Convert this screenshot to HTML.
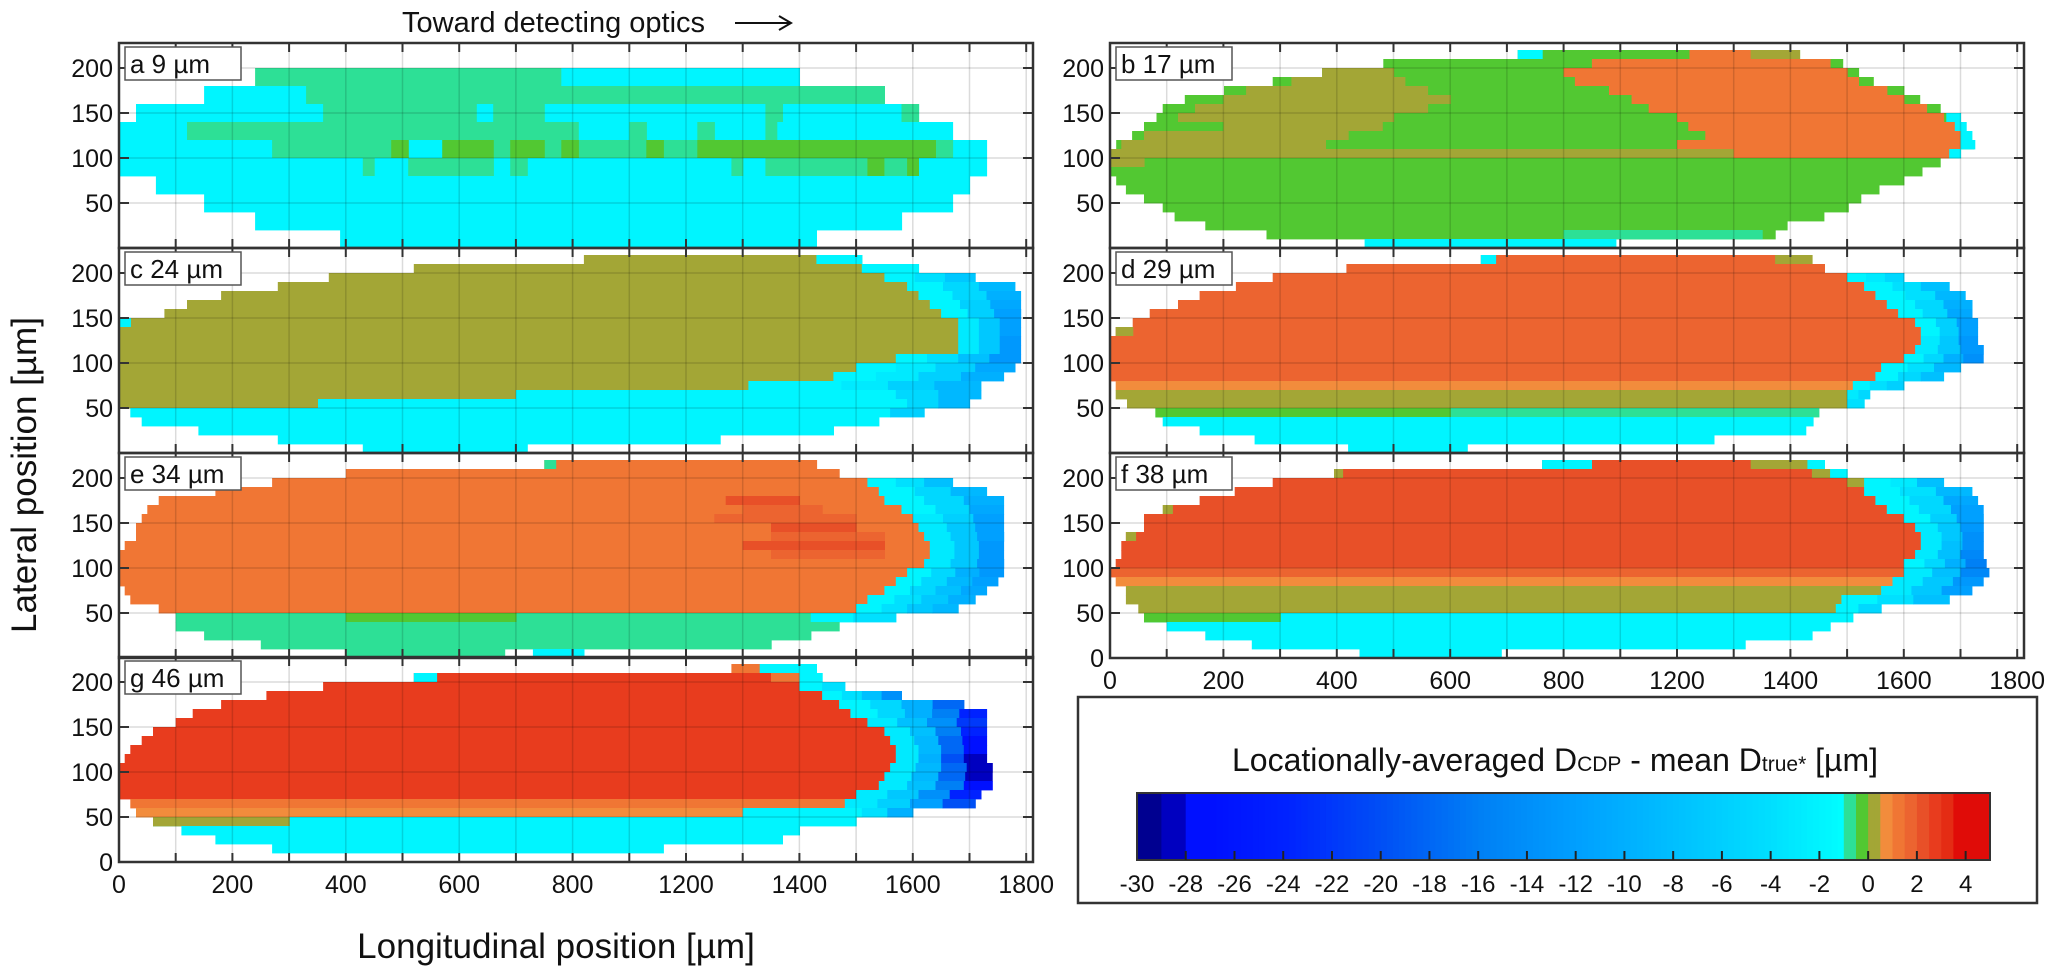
<!DOCTYPE html>
<html><head><meta charset="utf-8"><style>
html,body{margin:0;padding:0;background:#fff}
svg{display:block;font-family:"Liberation Sans",Arial,sans-serif}
</style></head><body>
<svg id="fig" width="2067" height="972" viewBox="0 0 2067 972" xmlns="http://www.w3.org/2000/svg">
<text x="402" y="32" font-size="29" fill="#111">Toward detecting optics</text>
<g><line x1="735" y1="23" x2="790" y2="23" stroke="#111" stroke-width="2"/><polyline points="779,16 791,23 779,30" fill="none" stroke="#111" stroke-width="2"/></g>
<text transform="translate(36,475) rotate(-90)" text-anchor="middle" font-size="35" fill="#111">Lateral position [µm]</text>
<text x="556" y="958" text-anchor="middle" font-size="35" fill="#111">Longitudinal position [µm]</text>
<g id="panels"></g>
<g id="cbar"></g>
</svg>
<script>
const xTickValues=[0,200,400,600,800,1000,1200,1400,1600];
const xTickLabels=['0','200','400','600','800','1200','1400','1600','1800'];
const yTickValues=[50,100,150,200];
const cbarTicks=[-30,-28,-26,-24,-22,-20,-18,-16,-14,-12,-10,-8,-6,-4,-2,0,2,4];
const panelNames=['a 9 µm','b 17 µm','c 24 µm','d 29 µm','e 34 µm','f 38 µm','g 46 µm'];

const panelA=[[180,200,240,780,-0.75],[180,200,780,1200,-2],
[160,180,150,330,-2],[160,180,330,1350,-0.75],
[140,160,30,1410,-2],[140,160,360,630,-0.75],[140,160,660,750,-0.75],[140,160,1140,1170,-0.75],[140,160,1380,1410,-0.75],
[120,140,0,1470,-2],[120,140,120,810,-0.75],[120,140,900,930,-0.75],[120,140,1020,1050,-0.75],[120,140,1140,1160,-0.75],
[100,120,0,1530,-2],[100,120,270,1470,-0.75],[100,120,510,570,-2],[100,120,480,510,-0.25],[100,120,570,660,-0.25],[100,120,690,750,-0.25],[100,120,780,810,-0.25],[100,120,930,960,-0.25],[100,120,1020,1440,-0.25],
[80,100,0,1530,-2],[80,100,430,450,-0.75],[80,100,510,660,-0.75],[80,100,690,720,-0.75],[80,100,1080,1100,-0.75],[80,100,1140,1320,-0.75],[80,100,1320,1350,-0.25],[80,100,1350,1390,-0.75],[80,100,1390,1410,-0.25],
[60,80,65,1500,-2],[40,60,150,1470,-2],[20,40,240,1380,-2],[0,20,390,1230,-2]];

const panelB=[[210,220,719,1216,-0.25],[210,220,719,762,-1.5],[210,220,1022,1130,1.25],[210,220,1130,1216,0.25],
[200,210,482,1292,-0.25],[200,210,850,1270,1.25],
[190,200,374,1320,-0.25],[190,200,374,500,0.25],[190,200,800,1300,1.25],
[180,190,287,1346,-0.25],[180,190,320,520,0.25],[180,190,820,1320,1.25],
[170,180,201,1400,-0.25],[170,180,240,560,0.25],[170,180,880,1370,1.25],
[160,170,132,1428,-0.25],[160,170,200,600,0.25],[160,170,920,1400,1.25],
[150,160,93,1464,-0.25],[150,160,150,560,0.25],[150,160,950,1440,1.25],
[140,150,82,1497,-0.25],[140,150,120,500,0.25],[140,150,1000,1470,1.25],[140,150,1475,1500,-2],
[130,140,60,1508,-0.25],[130,140,200,480,0.25],[130,140,1020,1490,1.25],[130,140,1490,1510,-2],
[120,130,39,1518,-0.25],[120,130,60,420,0.25],[120,130,1050,1500,1.25],[120,130,1500,1520,-2],
[110,120,11,1523,-0.25],[110,120,20,380,0.25],[110,120,1000,1500,1.25],[110,120,1500,1525,-2],
[100,110,0,1497,0.25],[100,110,1100,1480,1.25],[100,110,1480,1500,-2],
[90,100,0,1464,-0.25],[90,100,0,60,0.25],
[80,90,0,1432,-0.25],[70,80,11,1400,-0.25],[60,70,28,1356,-0.25],[50,60,60,1324,-0.25],[40,50,93,1302,-0.25],[30,40,114,1259,-0.25],[20,30,168,1194,-0.25],[10,20,276,1173,-0.25],[10,20,800,1150,-0.75],[0,10,449,892,-2]];

const panelC=[[210,220,820,1310,0.25],[210,220,1230,1310,-2],
[200,210,520,1310,0.25],[200,210,1310,1410,-2],
[190,200,370,1350,0.25],[190,200,1350,1510,[-2,-4,-7]],
[180,190,280,1390,0.25],[180,190,1390,1580,[-2,-5,-9]],
[170,180,180,1410,0.25],[170,180,1410,1590,[-2,-5,-10]],
[160,170,120,1430,0.25],[160,170,1430,1590,[-2,-6,-11]],
[150,160,80,1450,0.25],[150,160,1450,1590,[-2,-6,-12]],
[140,150,20,1480,0.25],[140,150,0,20,-2],[140,150,1480,1590,[-3,-7,-12]],
[130,140,0,1480,0.25],[130,140,1480,1590,[-3,-7,-12]],
[120,130,0,1480,0.25],[120,130,1480,1590,[-3,-7,-13]],
[110,120,0,1480,0.25],[110,120,1480,1590,[-3,-7,-13]],
[100,110,0,1370,0.25],[100,110,1370,1590,[-2,-4,-8,-13]],
[90,100,0,1300,0.25],[90,100,1300,1580,[-2,-3,-6,-11]],
[80,90,0,1260,0.25],[80,90,1260,1560,[-2,-3,-6,-10]],
[70,80,0,1110,0.25],[70,80,1110,1520,[-2,-2,-3,-6,-9]],
[60,70,0,700,0.25],[60,70,700,1370,-2],[60,70,1370,1520,[-5,-9]],
[50,60,0,1390,-2],[50,60,0,350,0.25],[50,60,1390,1500,[-5,-9]],
[40,50,20,1360,-2],[40,50,1360,1420,-6],
[30,40,40,1340,-2],[20,30,140,1260,-2],[10,20,280,1060,-2],[0,10,430,720,-2]];

const panelD=[[210,220,654,1200,1.75],[210,220,654,680,-2],[210,220,1173,1238,0.25],
[200,210,417,1260,1.75],
[190,200,287,1300,1.75],[190,200,1300,1400,[-2,-3,-5]],
[180,190,222,1330,1.75],[180,190,1330,1480,[-2,-4,-8]],
[170,180,158,1350,1.75],[170,180,1350,1508,[-2,-4,-9]],
[160,170,120,1370,1.75],[160,170,1370,1520,[-2,-5,-10]],
[150,160,70,1390,1.75],[150,160,1390,1520,[-2,-5,-11]],
[140,150,40,1420,1.75],[140,150,1420,1530,[-2,-6,-12]],
[130,140,10,1430,1.75],[130,140,10,40,0.25],[130,140,1430,1530,[-2,-6,-12]],
[120,130,0,1430,1.75],[120,130,1430,1530,[-3,-7,-13]],
[110,120,0,1420,1.75],[110,120,1420,1540,[-3,-7,-13]],
[100,110,0,1400,1.75],[100,110,1400,1540,[-2,-5,-10,-14]],
[90,100,0,1360,1.75],[90,100,1360,1500,[-2,-4,-9]],
[80,90,0,1350,1.75],[80,90,1350,1470,[-2,-5,-8]],
[70,80,10,1310,0.75],[70,80,1310,1400,[-2,-4,-6]],
[60,70,10,1300,0.25],[60,70,1300,1340,[-3,-5]],
[50,60,30,1300,0.25],[50,60,1300,1330,-4],
[40,50,80,1250,-0.75],[40,50,80,600,-0.25],
[30,40,93,1240,-2],[20,30,158,1227,-2],[10,20,255,1065,-2],[0,10,420,630,-2]];

const panelE=[[210,220,750,1230,1.25],[210,220,750,770,-0.75],
[200,210,400,1270,1.25],
[190,200,270,1320,1.25],[190,200,1320,1470,[-2,-4,-8]],
[180,190,170,1340,1.25],[180,190,1340,1530,[-2,-5,-9]],
[170,180,70,1350,1.25],[170,180,1070,1200,2.25],[170,180,1350,1560,[-2,-5,-10]],
[160,170,50,1380,1.25],[160,170,1100,1240,1.75],[160,170,1380,1560,[-2,-5,-11]],
[150,160,40,1400,1.25],[150,160,1050,1300,1.75],[150,160,1400,1560,[-3,-6,-12]],
[140,150,30,1410,1.25],[140,150,1150,1300,2.25],[140,150,1410,1560,[-3,-7,-12]],
[130,140,30,1420,1.25],[130,140,1150,1350,1.75],[130,140,1420,1560,[-3,-7,-12]],
[120,130,10,1430,1.25],[120,130,1100,1350,2.25],[120,130,1430,1560,[-3,-7,-13]],
[110,120,0,1430,1.25],[110,120,1150,1350,1.75],[110,120,1430,1560,[-3,-7,-13]],
[100,110,0,1420,1.25],[100,110,1420,1560,[-3,-7,-13]],
[90,100,0,1390,1.25],[90,100,1390,1560,[-2,-5,-10,-13]],
[80,90,0,1370,1.25],[80,90,1370,1550,[-2,-5,-9,-12]],
[70,80,10,1350,1.25],[70,80,1350,1530,[-2,-5,-8,-11]],
[60,70,20,1320,1.25],[60,70,1320,1510,[-2,-4,-7,-10]],
[50,60,70,1300,1.25],[50,60,1300,1480,[-2,-4,-7,-9]],
[40,50,100,1220,-0.75],[40,50,400,700,-0.25],[40,50,1220,1370,[-2,-4]],
[30,40,100,1270,-0.75],[20,30,150,1220,-0.75],[10,20,250,1150,-0.75],[0,10,400,680,-0.75],[0,10,730,820,-2]];

const panelF=[[210,220,762,1130,2.25],[210,220,762,849,-2],[210,220,1130,1230,0.25],[210,220,1230,1260,-2],
[200,210,395,1238,2.25],[200,210,395,410,0.25],[200,210,1238,1270,0.25],[200,210,1270,1300,-2],
[190,200,287,1300,2.25],[190,200,1300,1330,0.25],[190,200,1330,1470,[-2,-3,-8]],
[180,190,220,1330,2.25],[180,190,1330,1520,[-2,-4,-9]],
[170,180,158,1350,2.25],[170,180,1350,1530,[-2,-5,-11]],
[160,170,100,1370,2.25],[160,170,93,110,0.25],[160,170,1370,1540,[-2,-5,-12]],
[150,160,60,1400,2.25],[150,160,1400,1540,[-2,-6,-12]],
[140,150,60,1420,2.25],[140,150,1420,1540,[-3,-7,-13]],
[130,140,28,1430,2.25],[130,140,28,45,0.25],[130,140,1430,1540,[-3,-7,-14]],
[120,130,20,1430,2.25],[120,130,1430,1540,[-3,-8,-14]],
[110,120,20,1420,2.25],[110,120,1420,1540,[-3,-8,-15]],
[100,110,10,1400,2.25],[100,110,1400,1545,[-2,-5,-10,-16]],
[90,100,0,1400,1.75],[90,100,1400,1550,[-3,-8,-15]],
[80,90,10,1380,0.75],[80,90,1380,1540,[-3,-7,-13]],
[70,80,28,1360,0.25],[70,80,1360,1520,[-3,-7,-12]],
[60,70,28,1290,0.25],[60,70,1290,1480,[-2,-4,-8]],
[50,60,50,1280,0.25],[50,60,1280,1360,[-2,-5]],
[40,50,60,1310,-2],[40,50,60,300,-0.25],
[30,40,100,1270,-2],[20,30,168,1238,-2],[10,20,250,1120,-2],[0,10,440,690,-2]];

const panelG=[[210,220,1080,1130,1.25],[210,220,1130,1230,-2],
[200,210,520,1150,2.75],[200,210,520,560,-2],[200,210,1150,1200,1.25],[200,210,1200,1240,-2],
[190,200,360,1200,2.75],[190,200,1200,1280,[-2,-4]],
[180,190,260,1240,2.75],[180,190,1240,1380,[-2,-4,-8,-14]],
[170,180,180,1270,2.75],[170,180,1270,1490,[-2,-5,-10,-18]],
[160,170,130,1290,2.75],[160,170,1290,1530,[-2,-5,-10,-16,-24]],
[150,160,100,1320,2.75],[150,160,1320,1530,[-3,-8,-14,-22]],
[140,150,60,1350,2.75],[140,150,1350,1530,[-3,-8,-16,-24]],
[130,140,40,1360,2.75],[130,140,1360,1530,[-3,-9,-18,-28]],
[120,130,20,1370,2.75],[120,130,1370,1530,[-3,-9,-18,-28]],
[110,120,10,1370,2.75],[110,120,1370,1530,[-3,-10,-20,-29]],
[100,110,0,1360,2.75],[100,110,1360,1540,[-3,-9,-18,-29]],
[90,100,0,1350,2.75],[90,100,1350,1540,[-3,-9,-18,-29]],
[80,90,0,1340,2.75],[80,90,1340,1540,[-3,-8,-16,-28]],
[70,80,0,1300,2.75],[70,80,1300,1520,[-3,-7,-14,-24]],
[60,70,20,1280,1.25],[60,70,1280,1510,[-3,-6,-12,-20]],
[50,60,30,1310,0.75],[50,60,1100,1310,-2],[50,60,1310,1400,[-4,-10]],
[40,50,60,1300,-2],[40,50,60,300,0.25],
[30,40,110,1200,-2],[20,30,170,1170,-2],[10,20,270,960,-2]];

const NS='http://www.w3.org/2000/svg';
const panelData=[panelA,panelB,panelC,panelD,panelE,panelF,panelG];
const layout=[[119,248],[1110,248],[119,453],[1110,453],[119,658],[1110,658],[119,862]];
const PW=914, PH=205, UPX=0.567, YPX=0.9;

function hex(c){return [parseInt(c.slice(1,3),16),parseInt(c.slice(3,5),16),parseInt(c.slice(5,7),16)];}
const blueStops=[[-27,'#0010ff'],[-24,'#0022ff'],[-20,'#0050f5'],[-16,'#0080f5'],[-12,'#00a0ff'],[-8,'#00c0ff'],[-4,'#00e0ff'],[-1,'#00ffff']];
const posCols=['#2de096','#52c832','#a3a636','#f28c3c','#f07634','#ec6430','#e85028','#e83c1e','#e42c14','#e00c08'];
function cmap(v){
  if(v<-29) return '#000090';
  if(v<-28) return '#0000c0';
  if(v>=-1){let i=Math.floor((v+1)/0.5);if(i<0)i=0;if(i>9)i=9;return posCols[i];}
  let s=blueStops;
  if(v<=s[0][0]) return s[0][1];
  for(let i=0;i<s.length-1;i++){
    if(v<=s[i+1][0]){const t=(v-s[i][0])/(s[i+1][0]-s[i][0]);const a=hex(s[i][1]),b=hex(s[i+1][1]);
      return 'rgb('+a.map((x,k)=>Math.round(x+(b[k]-x)*t)).join(',')+')';}
  }
  return s[s.length-1][1];
}
function mk(tag,attrs,parent){const e=document.createElementNS(NS,tag);for(const k in attrs)e.setAttribute(k,attrs[k]);parent.appendChild(e);return e;}

const root=document.getElementById('panels');
panelData.forEach((rects,pi)=>{
  const L=layout[pi][0], B=layout[pi][1], T=B-PH;
  const xs=u=>L+u*UPX, ys=m=>B-m*YPX;
  const g=mk('g',{},root);
  
  
  const clip=mk('clipPath',{id:'cp'+pi},g);mk('rect',{x:L,y:T,width:PW,height:PH},clip);
  const cells=mk('g',{'clip-path':'url(#cp'+pi+')'},g);
  
  
  rects.forEach(r=>{
    const [y0,y1,x0,x1,v]=r;
    const vals=Array.isArray(v)?v:[v];
    const w=(x1-x0)/vals.length;
    vals.forEach((vv,k)=>{
      const a=xs(x0+k*w), b=xs(x0+(k+1)*w);
      const c=mk('rect',{x:a.toFixed(1),y:ys(y1).toFixed(1),width:(b-a+0.6).toFixed(1),height:(ys(y0)-ys(y1)+0.4).toFixed(1),fill:cmap(vv)},cells);
      
      
    });
  });
  for(let u=100;u<=1600;u+=100){mk('line',{x1:xs(u),x2:xs(u),y1:T,y2:B,stroke:'rgba(0,0,0,0.14)','stroke-width':1.5},g);
    mk('line',{x1:xs(u),x2:xs(u),y1:T,y2:T+9,stroke:'#333','stroke-width':2},g);
    mk('line',{x1:xs(u),x2:xs(u),y1:B-9,y2:B,stroke:'#333','stroke-width':2},g);}
  yTickValues.forEach(m=>{mk('line',{x1:L,x2:L+PW,y1:ys(m),y2:ys(m),stroke:'rgba(0,0,0,0.14)','stroke-width':1.5},g);
    mk('line',{x1:L,x2:L+10,y1:ys(m),y2:ys(m),stroke:'#333','stroke-width':2},g);
    mk('line',{x1:L+PW-10,x2:L+PW,y1:ys(m),y2:ys(m),stroke:'#333','stroke-width':2},g);
    const t=mk('text',{x:L-6,y:ys(m)+9,'text-anchor':'end','font-size':25,fill:'#111'},g);t.textContent=m;
    
    });
  mk('rect',{x:L,y:T,width:PW,height:PH,fill:'none',stroke:'#333','stroke-width':2.5},g);
  if(pi>=5){
    const t0=mk('text',{x:L-6,y:B+9,'text-anchor':'end','font-size':25,fill:'#111'},g);t0.textContent='0';
    
    
    xTickValues.forEach((u,i)=>{const t=mk('text',{x:xs(u),y:B+31,'text-anchor':'middle','font-size':25,fill:'#111'},g);t.textContent=xTickLabels[i];
      
      });
  }
  const lb=mk('g',{},g);
  
  
  mk('rect',{x:L+6,y:T+4,width:116,height:33,fill:'#fff',stroke:'#555','stroke-width':1.5},lb);
  const lt=mk('text',{x:L+11,y:T+30,'font-size':26,fill:'#111'},lb);lt.textContent=panelNames[pi];
});

const cb=document.getElementById('cbar');
mk('rect',{x:1078,y:697,width:959,height:206,fill:'#fff',stroke:'#333','stroke-width':2.5},cb);
const tt=mk('text',{x:1555,y:771,'text-anchor':'middle','font-size':32,fill:'#111'},cb);
tt.innerHTML='Locationally-averaged D<tspan font-size="21">CDP</tspan> - mean D<tspan font-size="21">true*</tspan> [µm]';


const CL=1137, CR=1990, CT=793, CB=860, vmin=-30, vmax=5;
const cx=v=>CL+(v-vmin)/(vmax-vmin)*(CR-CL);
for(let v=vmin;v<vmax;v+=0.25){mk('rect',{x:cx(v).toFixed(1),y:CT,width:(cx(v+0.25)-cx(v)+0.6).toFixed(1),height:CB-CT,fill:cmap(v+0.01)},cb);}
mk('rect',{x:CL,y:CT,width:CR-CL,height:CB-CT,fill:'none',stroke:'#333','stroke-width':2},cb);
cbarTicks.forEach(v=>{if(v>vmin)mk('line',{x1:cx(v),x2:cx(v),y1:CB-9,y2:CB,stroke:'#222','stroke-width':2},cb);
  const t=mk('text',{x:cx(v),y:CB+32,'text-anchor':'middle','font-size':24,fill:'#111'},cb);t.textContent=v;
  
  });
</script>
</body></html>
